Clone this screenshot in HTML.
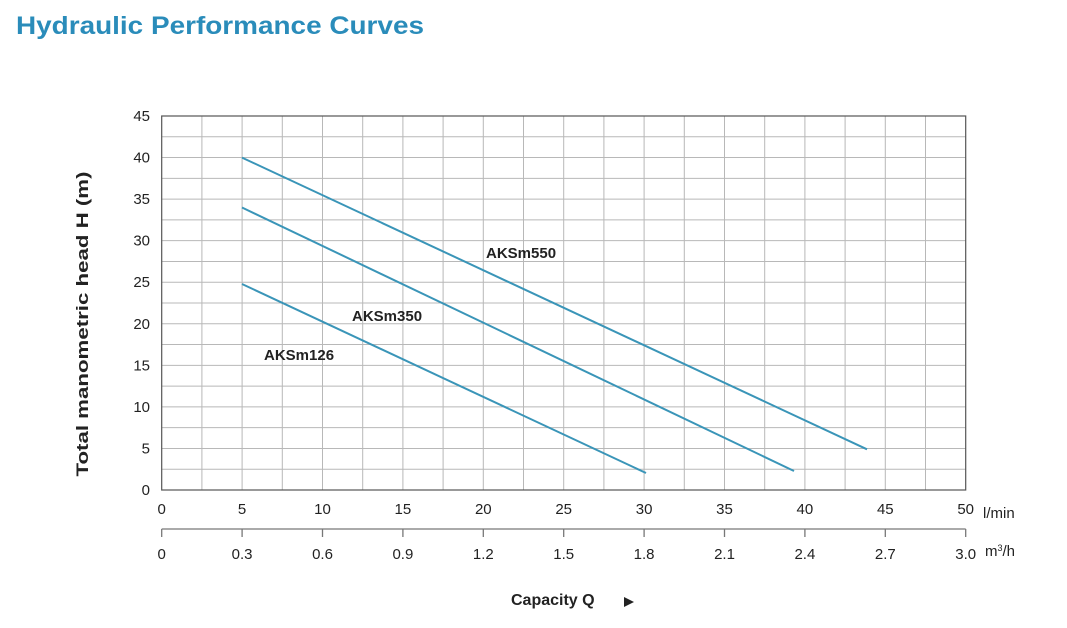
<!DOCTYPE html>
<html><head><style>
body{margin:0;background:#fff;width:1067px;height:623px;overflow:hidden;font-family:"Liberation Sans",Arial,sans-serif}
</style></head><body>
<svg width="1067" height="623" xmlns="http://www.w3.org/2000/svg" font-family="Liberation Sans, Arial, sans-serif">
<text x="16" y="34" font-size="25" font-weight="bold" fill="#2a8cba" textLength="408" lengthAdjust="spacingAndGlyphs">Hydraulic Performance Curves</text>
<g id="grid" stroke="#b8b8b8" stroke-width="1"></g>
<rect x="161.7" y="116" width="804" height="374" fill="none" stroke="#555" stroke-width="1.2"/>
<g id="labels" font-size="15" fill="#222"></g>
<line x1="161.7" y1="529" x2="965.7" y2="529" stroke="#777" stroke-width="1.3"/>
<g id="ticks2" stroke="#777" stroke-width="1.3"></g>
<text x="983" y="518" font-size="15" fill="#222">l/min</text>
<text x="985" y="556" font-size="15" fill="#222">m<tspan dy="-5" font-size="9">3</tspan><tspan dy="5">/h</tspan></text>
<g stroke="#3a95b8" stroke-width="2" fill="none">
<line x1="242" y1="157.6" x2="867" y2="449.3"/>
<line x1="242" y1="207.5" x2="794" y2="471"/>
<line x1="242" y1="284" x2="646" y2="473"/>
</g>
<g font-size="15" font-weight="bold" fill="#222">
<text x="486" y="258">AKSm550</text>
<text x="352" y="321">AKSm350</text>
<text x="264" y="360">AKSm126</text>
<text x="511" y="605" font-size="16">Capacity Q</text>
</g>
<polygon points="624,597 624,607 634,602" fill="#222"/>
<text transform="translate(88,324) rotate(-90)" text-anchor="middle" font-size="17" font-weight="bold" fill="#222" textLength="305" lengthAdjust="spacingAndGlyphs">Total manometric head H (m)</text>
<script>
var ns="http://www.w3.org/2000/svg",g=document.getElementById('grid'),l=document.getElementById('labels'),t2=document.getElementById('ticks2');
function el(p,tag,a,txt){var e=document.createElementNS(ns,tag);for(var k in a)e.setAttribute(k,a[k]);if(txt!==undefined)e.textContent=txt;p.appendChild(e);}
var x0=161.7,sx=804/50,y0=490,sy=374/45;
for(var i=1;i<20;i++){var x=x0+i*2.5*sx;el(g,'line',{x1:x,y1:116,x2:x,y2:490});}
for(var j=1;j<18;j++){var y=y0-j*2.5*sy;el(g,'line',{x1:x0,y1:y,x2:965.7,y2:y});}
for(var v=0;v<=50;v+=5){var x=x0+v*sx;el(l,'text',{x:x,y:514,'text-anchor':'middle'},v);
el(t2,'line',{x1:x,y1:529,x2:x,y2:537});
el(l,'text',{x:x,y:559,'text-anchor':'middle'},v==0?'0':(v*0.06).toFixed(1));}
for(var h=0;h<=45;h+=5){el(l,'text',{x:150,y:y0-h*sy+5,'text-anchor':'end'},h);}
</script>
</svg>
</body></html>
